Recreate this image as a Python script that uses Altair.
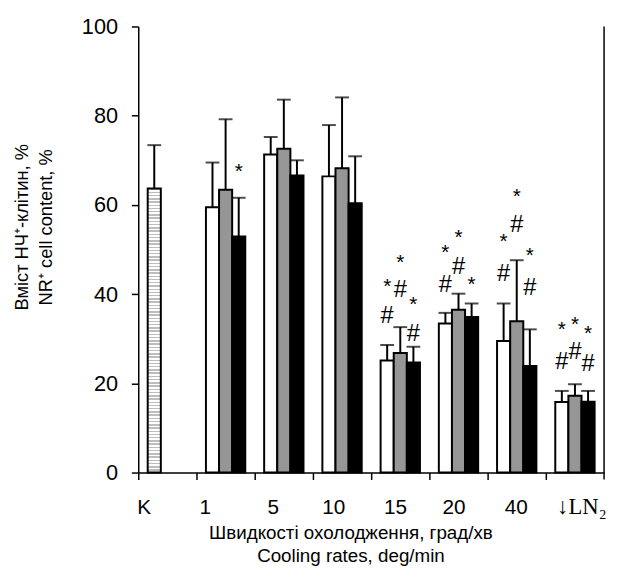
import altair as alt
import pandas as pd

# ---- data ----
categories = ["K", "1", "5", "10", "15", "20", "40", "LN2"]
groups = ["1", "5", "10", "15", "20", "40", "LN2"]
white_mean = [59.5, 71.3, 66.4, 25.1, 33.4, 29.5, 15.8]
white_err = [10.0, 3.9, 11.5, 3.5, 2.4, 8.4, 2.5]
gray_mean = [63.4, 72.6, 68.2, 26.8, 36.5, 33.9, 17.2]
gray_err = [15.8, 11.0, 15.9, 5.8, 3.6, 13.7, 2.6]
black_mean = [52.9, 66.6, 60.4, 24.7, 34.9, 23.9, 15.9]
black_err = [8.7, 3.4, 10.5, 3.5, 3.0, 8.2, 2.4]
control_mean = 63.7
control_err = 9.7

hash_cat = ["15", "15", "15", "20", "20", "40", "40", "40", "LN2", "LN2", "LN2"]
hash_slot = ["a", "b", "c", "a", "b", "a", "b", "c", "a", "b", "c"]
hash_y = [35.0, 40.9, 31.0, 42.0, 46.1, 44.6, 55.5, 41.3, 24.8, 26.9, 24.3]
star_cat = ["1", "15", "15", "15", "20", "20", "20", "40", "40", "40", "LN2", "LN2", "LN2"]
star_slot = ["c", "a", "b", "c", "a", "b", "c", "a", "b", "c", "a", "b", "c"]
star_y = [68.8, 42.8, 48.3, 38.9, 50.5, 53.8, 43.3, 53.1, 63.1, 49.8, 33.3, 34.4, 32.4]

label_offsets = {"K": -23.5, "1": -20.5, "5": -10.8, "10": -8.5, "15": -4.8, "20": -4.5, "40": -0.5, "LN2": 7}

# ---- tables ----
rows = []
for slot, means, errs in [("a", white_mean, white_err), ("b", gray_mean, gray_err), ("c", black_mean, black_err)]:
    for g, m, e in zip(groups, means, errs):
        rows.append({"cat": g, "slot": slot, "kind": slot, "mean": m, "upper": m + e})
bars = pd.DataFrame(rows)
ctrl = pd.DataFrame([{"cat": "K", "slot": "a", "kind": "K", "mean": control_mean, "upper": control_mean + control_err}])
allbars = pd.concat([ctrl, bars], ignore_index=True)
hashes = pd.DataFrame({"cat": hash_cat, "slot": hash_slot, "y": hash_y, "t": "#"})
stars = pd.DataFrame({"cat": star_cat, "slot": star_slot, "y": star_y, "t": "*"})

W, H = 472, 452
FONT = "Liberation Sans"

conds = [{"test": f"datum.value === '{k}'", "value": v} for k, v in label_offsets.items()]

xenc = alt.X(
    "cat:N",
    sort=categories,
    scale=alt.Scale(domain=categories, paddingInner=0, paddingOuter=0),
    axis=alt.Axis(
        title=["Швидкості охолодження, град/хв", "Cooling rates, deg/min"],
        titleFont=FONT, titleFontSize=19, titleFontWeight="normal", titleColor="black",
        titleX=215, titleY=61, titleAlign="center", titleBaseline="middle", titleLineHeight=23,
        bandPosition=0, tickSize=7, tickWidth=1.5, tickColor="black",
        domainColor="black", domainWidth=1.5,
        labelAngle=0, labelFont={"condition": {"test": "datum.value === 'LN2'", "value": "Liberation Serif"}, "value": FONT},
        labelFontSize={"condition": {"test": "datum.value === 'LN2'", "value": 23}, "value": 21},
        labelColor="black", labelPadding=17,
        labelOffset={"condition": conds, "value": 0},
        labelExpr="datum.value === 'LN2' ? '↓LN₂' : datum.value",
    ),
)
xoff = alt.XOffset("slot:N", scale=alt.Scale(domain=["a", "b", "c"], paddingInner=0, paddingOuter=0.72))
yscale = alt.Scale(domain=[0, 100], nice=False)
yenc = alt.Y(
    "mean:Q", scale=yscale,
    axis=alt.Axis(
        values=[0, 20, 40, 60, 80, 100], grid=False,
        title=["Вміст НЧ⁺-клітин, %", "NR⁺ cell content, %"],
        titleFont=FONT, titleFontSize=18.5, titleFontWeight="normal", titleColor="black",
        titleAngle=-90, titleX=-118, titleY=203, titleAlign="center", titleBaseline="middle",
        titleLineHeight=24,
        tickSize=7, tickWidth=1.5, tickColor="black", domainColor="black", domainWidth=1.5,
        labelFont=FONT, labelFontSize=22, labelColor="black", labelPadding=14,
    ),
)

base = alt.Chart(bars)

stops = []
n = 88
for i in range(n):
    a = i / n
    b = (i + 0.45) / n
    stops += [alt.GradientStop(color="#bdbdbd", offset=a), alt.GradientStop(color="#bdbdbd", offset=b),
              alt.GradientStop(color="#ffffff", offset=b), alt.GradientStop(color="#ffffff", offset=(i + 1) / n)]
hatch = alt.LinearGradient(gradient="linear", stops=stops, x1=0, x2=0, y1=0, y2=1)

err_rule = alt.Chart(allbars).mark_rule(color="black", strokeWidth=2).encode(
    x=xenc, xOffset=xoff, y=yenc, y2="upper:Q")
caps = alt.Chart(allbars).mark_tick(color="black", thickness=2, size=14).encode(
    x=xenc, xOffset=xoff, y=alt.Y("upper:Q", scale=yscale))

bar_layer = base.mark_bar(stroke="black", strokeWidth=2).encode(
    x=xenc, xOffset=xoff, y=yenc,
    fill=alt.Fill("kind:N", scale=alt.Scale(domain=["a", "b", "c"], range=["#ffffff", "#969696", "#000000"]), legend=None),
)
ctrl_layer = alt.Chart(ctrl).mark_bar(stroke="black", strokeWidth=2, fill=hatch).encode(
    x=xenc, xOffset=xoff, y=yenc)

hash_layer = alt.Chart(hashes).mark_text(font=FONT, fontSize=24, color="black", baseline="middle", align="center").encode(
    x=xenc, xOffset=xoff, y=alt.Y("y:Q", scale=yscale), text="t:N")
star_layer = alt.Chart(stars).mark_text(font=FONT, fontSize=21, color="black", baseline="middle", align="center", dy=6).encode(
    x=xenc, xOffset=xoff, y=alt.Y("y:Q", scale=yscale), text="t:N")

right_line = alt.Chart(ctrl).mark_rule(color="black", strokeWidth=1.5).encode(
    x=alt.value(W), y=alt.value(0), y2=alt.value(H + 7))

chart = alt.layer(err_rule, caps, bar_layer, ctrl_layer, hash_layer, star_layer, right_line).properties(
    width=W, height=H,
    autosize=alt.AutoSizeParams(type="none"),
    padding={"left": 132, "top": 15, "right": 5, "bottom": 94},
    background="white",
).configure_view(stroke=None)

chart.save("out.html", embed_options={"renderer": "svg", "actions": False})
